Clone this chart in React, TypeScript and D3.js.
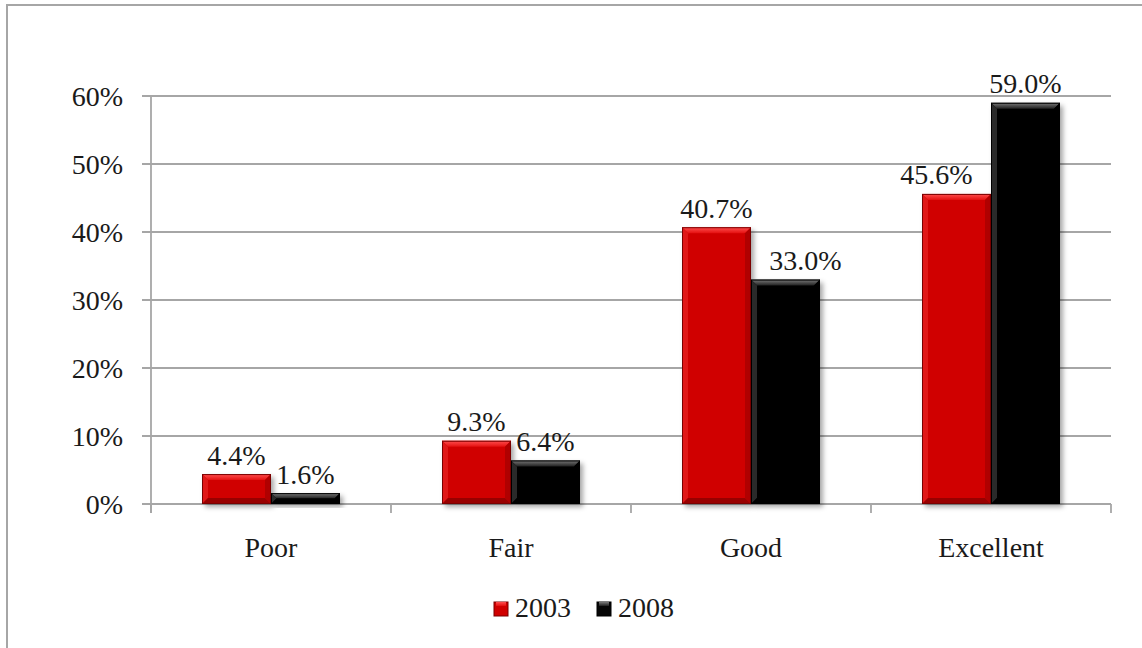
import React from "react";
import * as d3 from "d3";

const categories = ["Poor", "Fair", "Good", "Excellent"];
const seriesNames = ["2003", "2008"];
const values2003 = [4.4, 9.3, 40.7, 45.6];
const values2008 = [1.6, 6.4, 33.0, 59.0];
const yTicks = [0, 10, 20, 30, 40, 50, 60];

const W = 1142;
const H = 648;
const FONT = "'Liberation Serif', 'Times New Roman', serif";
const FS = 28;

const plot = { left: 151, right: 1111, top: 96, bottom: 504 };

const palette: Record<string, { body: string; top: string; left: string; right: string; bottom: string; stroke: string }> = {
  "2003": { body: "#d00000", top: "#f23030", left: "#e01818", right: "#b00000", bottom: "#980000", stroke: "#7a0000" },
  "2008": { body: "#060606", top: "#5a5a5a", left: "#2a2a2a", right: "#000000", bottom: "#000000", stroke: "#000000" },
};

// horizontal nudge for labels that were moved to avoid overlap
const labelNudge: Record<string, number> = { "Excellent|2003": -20, "Good|2008": 20 };

function Bar({ x, y, w, h, s }: { x: number; y: number; w: number; h: number; s: string }) {
  const c = palette[s];
  const b = Math.min(6, h / 2);
  const pts = (arr: number[][]) => arr.map((p) => p.join(",")).join(" ");
  return (
    <g>
      <rect x={x} y={y} width={w} height={h} fill={c.body} filter="url(#shadow)" />
      <polygon points={pts([[x, y], [x + w, y], [x + w - b, y + b], [x + b, y + b]])} fill={`url(#topgrad${s})`} />
      <polygon points={pts([[x, y], [x + b, y + b], [x + b, y + h - b], [x, y + h]])} fill={c.left} />
      <polygon points={pts([[x + w, y], [x + w - b, y + b], [x + w - b, y + h - b], [x + w, y + h]])} fill={c.right} />
      <polygon points={pts([[x, y + h], [x + b, y + h - b], [x + w - b, y + h - b], [x + w, y + h]])} fill={c.bottom} />
      <rect x={x + 0.5} y={y + 0.5} width={w - 1} height={Math.max(0, h - 1)} fill="none" stroke={c.stroke} strokeWidth={1} />
    </g>
  );
}

export default function App() {
  const x0 = d3.scaleBand<string>().domain(categories).range([plot.left, plot.right]).paddingInner(0).paddingOuter(0);
  const bw = x0.bandwidth();
  const x1 = d3.scaleBand<string>().domain(seriesNames).range([51, bw - 51]).paddingInner(0).paddingOuter(0);
  const y = d3.scaleLinear().domain([0, 60]).range([plot.bottom, plot.top]);

  const seriesValues: Record<string, number[]> = { "2003": values2003, "2008": values2008 };
  const gridColor = "#a6a6a6";

  return (
    <svg width={W} height={H} style={{ position: "absolute", left: 0, top: 0 }} xmlns="http://www.w3.org/2000/svg">
      <defs>
        <filter id="shadow" x="-20%" y="-20%" width="150%" height="150%">
          <feDropShadow dx="3" dy="3" stdDeviation="2.5" floodColor="#000" floodOpacity="0.35" />
        </filter>
        <linearGradient id="topgrad2003" x1="0" y1="0" x2="0" y2="1">
          <stop offset="0" stopColor="#ff5050" />
          <stop offset="1" stopColor="#e41010" />
        </linearGradient>
        <linearGradient id="topgrad2008" x1="0" y1="0" x2="0" y2="1">
          <stop offset="0" stopColor="#7a7a7a" />
          <stop offset="1" stopColor="#202020" />
        </linearGradient>
      </defs>
      <rect x={0} y={0} width={W} height={H} fill="#fff" />
      <rect x={7} y={5} width={W + 20} height={H + 20} fill="none" stroke="#a6a6a6" strokeWidth={2} />

      {/* gridlines */}
      {yTicks.map((t) => (
        <line key={"g" + t} x1={plot.left - 9} x2={plot.right} y1={y(t)} y2={y(t)} stroke={gridColor} strokeWidth={1.8} />
      ))}
      {/* y axis */}
      <line x1={plot.left} x2={plot.left} y1={plot.top} y2={plot.bottom + 9} stroke={gridColor} strokeWidth={1.8} />
      {/* x ticks */}
      {[...categories.map((c) => x0(c) as number), plot.right].map((xx, i) => (
        <line key={"xt" + i} x1={xx} x2={xx} y1={plot.bottom} y2={plot.bottom + 9} stroke={gridColor} strokeWidth={1.8} />
      ))}

      {/* y tick labels */}
      {yTicks.map((t) => (
        <text key={"yl" + t} x={123} y={y(t) + 9.5} textAnchor="end" fontFamily={FONT} fontSize={FS} fill="#1a1a1a">
          {t}%
        </text>
      ))}

      {/* bars */}
      {categories.map((c, ci) =>
        seriesNames.map((s) => {
          const v = seriesValues[s][ci];
          const bx = (x0(c) as number) + (x1(s) as number);
          const w = x1.bandwidth();
          const by = y(v);
          const h = y(0) - by;
          return <Bar key={c + s} x={bx} y={by} w={w} h={h} s={s} />;
        })
      )}

      {/* data labels */}
      {categories.map((c, ci) =>
        seriesNames.map((s) => {
          const v = seriesValues[s][ci];
          const cx = (x0(c) as number) + (x1(s) as number) + x1.bandwidth() / 2 + (labelNudge[c + "|" + s] || 0);
          return (
            <text key={"dl" + c + s} x={cx} y={y(v) - 9.5} textAnchor="middle" fontFamily={FONT} fontSize={FS} fill="#1a1a1a">
              {v.toFixed(1)}%
            </text>
          );
        })
      )}

      {/* category labels */}
      {categories.map((c) => (
        <text key={"cl" + c} x={(x0(c) as number) + bw / 2} y={557} textAnchor="middle" fontFamily={FONT} fontSize={FS} fill="#1a1a1a">
          {c}
        </text>
      ))}

      {/* legend */}
      {seriesNames.map((s, i) => {
        const lx = [494, 597][i];
        return (
          <g key={"lg" + s}>
            <rect x={lx} y={602} width={14} height={14} fill={palette[s].body} stroke={palette[s].stroke} strokeWidth={1} />
            <rect x={lx + 2} y={602} width={10} height={4} fill={`url(#topgrad${s})`} />
            <text x={lx + 21} y={617} fontFamily={FONT} fontSize={FS} fill="#1a1a1a">
              {s}
            </text>
          </g>
        );
      })}
    </svg>
  );
}
